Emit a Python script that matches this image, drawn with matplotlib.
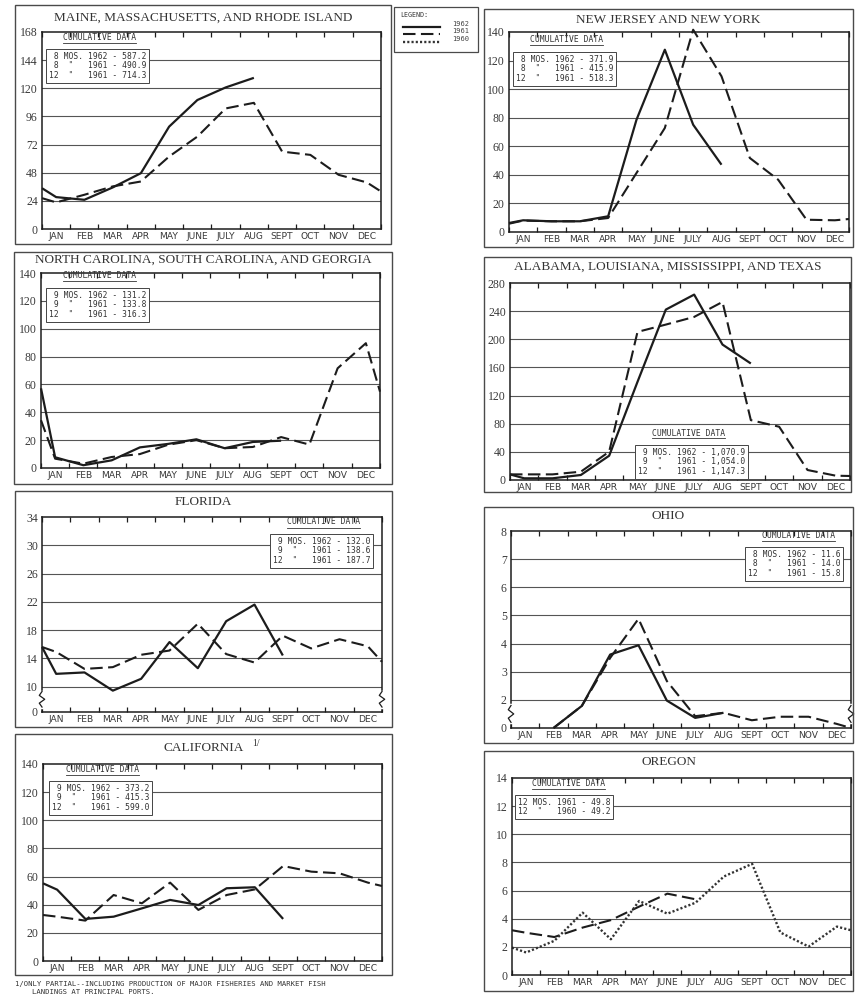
import numpy as np
import matplotlib
matplotlib.use("Agg")
import matplotlib.pyplot as plt
from matplotlib.patches import Rectangle
from matplotlib.lines import Line2D
import matplotlib.transforms as mtransforms

# Monthly landings (million lbs).
# Each series: [left edge, JAN .. DEC, right edge]; None = no data.
MONTHS = ["JAN", "FEB", "MAR", "APR", "MAY", "JUNE", "JULY", "AUG",
          "SEPT", "OCT", "NOV", "DEC"]

maine_1962 = [34.8, 27.2, 24.9, 35.4, 47.6, 87.3, 110.0, 120.7, 128.9, None, None, None, None, None]
maine_1961 = [26.3, 22.7, 29.2, 36.3, 40.5, 61.8, 78.8, 102.8, 107.6, 66.0, 63.2, 46.2, 39.7, 32.0]

nj_1962 = [6.3, 8.2, 7.5, 7.5, 11.0, 78.6, 127.6, 75.1, 47.1, None, None, None, None, None]
nj_1961 = [5.8, 8.0, 7.5, 7.5, 9.8, 41.3, 72.8, 141.6, 109.0, 51.8, 36.6, 8.6, 8.2, 9.1]

nc_1962 = [57.2, 7.7, 2.0, 5.5, 14.8, 17.3, 20.6, 14.2, 18.7, 19.6, None, None, None, None]
nc_1961 = [34.3, 6.7, 3.1, 7.9, 10.0, 16.7, 20.0, 14.2, 15.1, 22.2, 16.8, 71.6, 89.6, 54.8]

gulf_1962 = [8.0, 2.4, 2.4, 7.1, 34.5, 139.5, 242.2, 263.5, 192.5, 165.6, None, None, None, None]
gulf_1961 = [8.0, 8.0, 8.0, 11.8, 40.2, 210.5, 220.9, 231.8, 253.1, 85.1, 75.7, 14.2, 6.1, 5.7]

florida_1962 = [15.6, 11.8, 12.0, 8.4, 11.1, 16.3, 12.6, 19.25, 21.6, 14.4, None, None, None, None]
florida_1961 = [15.6, 14.9, 12.5, 12.75, 14.5, 15.1, 18.9, 14.6, 13.4, 17.2, 15.4, 16.7, 15.7, 13.5]

ohio_1962 = [None, None, 0.0, 1.57, 3.61, 3.94, 1.95, 0.72, 1.08, None, None, None, None, None]
ohio_1961 = [None, None, 0.0, 1.57, 3.49, 4.88, 2.67, 0.84, 1.08, 0.55, 0.8, 0.8, 0.29, 0.0]

calif_1962 = [55.2, 50.7, 29.9, 31.5, 37.4, 43.4, 39.8, 51.7, 52.4, 29.9, None, None, None, None]
calif_1961 = [32.7, 31.5, 28.7, 46.9, 41.0, 55.7, 36.3, 46.9, 50.9, 67.5, 63.5, 62.3, 55.7, 53.3]

oregon_1961 = [3.18, 3.0, 2.7, 3.37, 3.9, 4.86, 5.78, 5.38, None, None, None, None, None, None]
oregon_1960 = [1.95, 1.6, 2.43, 4.43, 2.54, 5.26, 4.36, 5.14, 7.0, 7.9, 3.02, 2.02, 3.44, 3.18]

maine_cum = [" 8 MOS. 1962 - 587.2", " 8  \"   1961 - 490.9", "12  \"   1961 - 714.3"]
nj_cum = [" 8 MOS. 1962 - 371.9", " 8  \"   1961 - 415.9", "12  \"   1961 - 518.3"]
nc_cum = [" 9 MOS. 1962 - 131.2", " 9  \"   1961 - 133.8", "12  \"   1961 - 316.3"]
gulf_cum = [" 9 MOS. 1962 - 1,070.9", " 9  \"   1961 - 1,054.0", "12  \"   1961 - 1,147.3"]
florida_cum = [" 9 MOS. 1962 - 132.0", " 9  \"   1961 - 138.6", "12  \"   1961 - 187.7"]
ohio_cum = [" 8 MOS. 1962 - 11.6", " 8  \"   1961 - 14.0", "12  \"   1961 - 15.8"]
calif_cum = [" 9 MOS. 1962 - 373.2", " 9  \"   1961 - 415.3", "12  \"   1961 - 599.0"]
oregon_cum = ["12 MOS. 1961 - 49.8", "12  \"   1960 - 49.2"]

legend_years = ["1962", "1961", "1960"]

X_POS = np.r_[0.0, np.arange(12) + 0.5, 12.0]
W, H = 862, 994
INK = "#1c1c1c"
GREY = "#4a4a4a"

fig = plt.figure(figsize=(W / 100, H / 100), dpi=100)
fig.patch.set_facecolor("white")
renderer = fig.canvas.get_renderer()

STYLE = {
    "solid": dict(color=INK, lw=1.6, ls="-"),
    "dashed": dict(color=INK, lw=1.5, ls=(0, (6, 2.6))),
    "dotted": dict(color="#333333", lw=1.7, ls=(0, (0.9, 0.9))),
}


def box(x0, x1, y0, y1, lw=1.0):
    fig.patches.append(Rectangle((x0 / W, 1 - y1 / H), (x1 - x0) / W, (y1 - y0) / H,
                                 transform=fig.transFigure, fill=False,
                                 ec=GREY, lw=lw))


def underline(t):
    bb = t.get_window_extent(renderer)
    inv = fig.transFigure.inverted()
    (a, b), (c, _) = inv.transform([(bb.x0, bb.y0 - 1), (bb.x1, bb.y0 - 1)])
    fig.lines.append(Line2D([a, c], [b, b], transform=fig.transFigure,
                            color="#333333", lw=0.6, zorder=6))


def brk(vals, hi, zero):
    # compressed scale below the break: 0 -> zero, hi -> hi
    out = []
    for v in vals:
        if v is None:
            out.append(np.nan)
        elif v >= hi:
            out.append(v)
        else:
            out.append(zero + (hi - zero) * v / hi)
    return np.array(out, dtype=float)


def panel(rect, outer, title, title_y, yticks, series, cum, cum_xy,
          ylabels=None, ylim=None, brk_y=None):
    x0, x1, y0, y1 = rect
    ax = fig.add_axes([x0 / W, 1 - y1 / H, (x1 - x0) / W, (y1 - y0) / H])
    box(*outer)
    fig.text(((outer[0] + outer[1]) / 2) / W, 1 - title_y / H, title,
             ha="center", va="center", family="Liberation Serif",
             fontsize=9.5, color="#333333")

    for vals, kind in series:
        y = np.array([np.nan if v is None else v for v in vals], dtype=float)
        ax.plot(X_POS, y, clip_on=False, solid_capstyle="butt",
                dash_capstyle="butt", **STYLE[kind])

    ax.set_xlim(0, 12)
    ax.set_ylim(ylim if ylim else (yticks[0], yticks[-1]))
    ax.set_yticks(yticks)
    ax.set_yticklabels(ylabels if ylabels else [str(v) for v in yticks],
                       family="Liberation Serif", fontsize=8.5, color="#3a3a3a")
    for v in yticks[1:-1]:
        ax.axhline(v, color="#555555", lw=0.8, zorder=0)

    ax.set_xticks(np.arange(12) + 0.5)
    ax.set_xticklabels(MONTHS, fontsize=6.6, color="#3a3a3a", family="DejaVu Sans")
    ax.set_xticks(np.arange(13), minor=True)
    ax.tick_params(axis="x", which="major", length=0, pad=2)
    ax.tick_params(axis="x", which="minor", direction="in", length=3.5,
                   width=0.9, top=True, bottom=True, color=INK)
    ax.tick_params(axis="y", length=0, pad=3)
    for sp in ax.spines.values():
        sp.set_color(INK)
        sp.set_linewidth(1.1)

    if brk_y is not None:
        lo, hi = brk_y
        zy = np.linspace(lo, hi, 5)
        trans = mtransforms.blended_transform_factory(ax.transAxes, ax.transData)
        for xe in (0, 1):
            ax.plot([xe, xe], [lo, hi], color="white", lw=2.5, transform=trans,
                    clip_on=False, zorder=4)
            zx = [xe, xe - 0.008, xe + 0.008, xe - 0.008, xe]
            ax.plot(zx, zy, color=INK, lw=0.9, transform=trans, clip_on=False, zorder=5)

    # cumulative data block
    cx, cy = cum_xy
    t = fig.text(cx / W, 1 - cy / H, "CUMULATIVE DATA", family="DejaVu Sans Mono",
                 fontsize=5.8, color="#333333", ha="left", va="center", zorder=6)
    underline(t)
    fig.text((cx - 14) / W, 1 - (cy + 15) / H, "\n".join(cum),
             family="DejaVu Sans Mono", fontsize=5.8, color="#333333",
             ha="left", va="top", linespacing=1.05, zorder=6,
             bbox=dict(boxstyle="square,pad=0.35", fc="white", ec="#444444", lw=0.7))
    return ax


panel((42, 381, 32, 229), (15, 391, 5, 244), "MAINE, MASSACHUSETTS, AND RHODE ISLAND", 18,
      list(range(0, 169, 24)), [(maine_1962, "solid"), (maine_1961, "dashed")],
      maine_cum, (63, 37))

panel((509, 849, 32, 232), (484, 853, 9, 247), "NEW JERSEY AND NEW YORK", 20,
      list(range(0, 141, 20)), [(nj_1962, "solid"), (nj_1961, "dashed")],
      nj_cum, (530, 40))

panel((41, 380, 273, 468), (14, 392, 252, 484),
      "NORTH CAROLINA, SOUTH CAROLINA, AND GEORGIA", 260,
      list(range(0, 141, 20)), [(nc_1962, "solid"), (nc_1961, "dashed")],
      nc_cum, (63, 276))

panel((510, 850, 283, 480), (484, 851, 257, 492),
      "ALABAMA, LOUISIANA, MISSISSIPPI, AND TEXAS", 267,
      list(range(0, 281, 40)), [(gulf_1962, "solid"), (gulf_1961, "dashed")],
      gulf_cum, (652, 433))

fl_ticks = [6.4, 10, 14, 18, 22, 26, 30, 34]
panel((42, 382, 517, 712), (15, 392, 491, 727), "FLORIDA", 502,
      fl_ticks, [(list(brk(florida_1962, 10, 6.4)), "solid"),
                 (list(brk(florida_1961, 10, 6.4)), "dashed")],
      florida_cum, (287, 522),
      ylabels=["0", "10", "14", "18", "22", "26", "30", "34"], brk_y=(7.1, 9.3))

oh_ticks = [1, 2, 3, 4, 5, 6, 7, 8]
panel((511, 851, 531, 728), (484, 853, 507, 743), "OHIO", 516,
      oh_ticks, [(list(brk(ohio_1962, 2, 1)), "solid"),
                 (list(brk(ohio_1961, 2, 1)), "dashed")],
      ohio_cum, (762, 535),
      ylabels=["0", "2", "3", "4", "5", "6", "7", "8"], brk_y=(1.2, 1.8))

panel((43, 382, 764, 961), (15, 392, 734, 975), "CALIFORNIA", 748,
      list(range(0, 141, 20)), [(calif_1962, "solid"), (calif_1961, "dashed")],
      calif_cum, (66, 769))
fig.text(252 / W, 1 - 743 / H, "1/", family="Liberation Serif", fontsize=7,
         color="#333333", ha="left", va="center")

panel((512, 851, 778, 975), (484, 853, 751, 991), "OREGON", 762,
      list(range(0, 15, 2)), [(oregon_1961, "dashed"), (oregon_1960, "dotted")],
      oregon_cum, (532, 783))

# legend box
box(394, 478, 7, 52, lw=0.9)
fig.text(400 / W, 1 - 15 / H, "LEGEND:", family="DejaVu Sans Mono", fontsize=4.8,
         color="#333333", va="center")
for (yy, kind, lab) in zip([27, 34, 42], ["solid", "dashed", "dotted"], legend_years):
    fig.lines.append(Line2D([403 / W, 440 / W], [1 - yy / H, 1 - yy / H],
                            transform=fig.transFigure, **STYLE[kind]))
    fig.text(452 / W, 1 - (yy - 3) / H, lab, family="DejaVu Sans Mono", fontsize=5,
             color="#444444", va="center")

fig.text(15 / W, 1 - 984 / H,
         "1/ONLY PARTIAL--INCLUDING PRODUCTION OF MAJOR FISHERIES AND MARKET FISH",
         family="DejaVu Sans Mono", fontsize=5.2, color="#333333", va="center")
fig.text(32 / W, 1 - 992 / H, "LANDINGS AT PRINCIPAL PORTS.",
         family="DejaVu Sans Mono", fontsize=5.2, color="#333333", va="center")

fig.savefig("out.png", dpi=100, facecolor="white")
